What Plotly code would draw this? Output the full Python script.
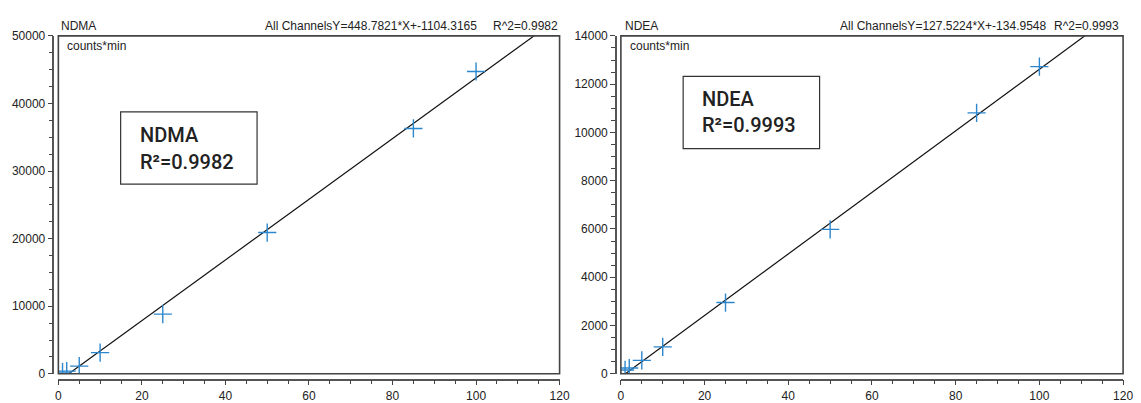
import plotly.graph_objects as go

W, H = 1141, 403

# Calibration data: concentration vs. peak area (counts*min)
conc_ndma = [1, 2, 5, 10, 25, 50, 85, 100]
area_ndma = [250, 400, 1140, 3130, 8830, 20900, 36300, 44730]
conc_ndea = [1, 2, 5, 10, 25, 50, 85, 100]
area_ndea = [160, 240, 558, 1117, 2952, 5983, 10810, 12725]

# Linear fit results
fit_ndma = {"slope": 448.7821, "intercept": -1104.3165, "r2": 0.9982}
fit_ndea = {"slope": 127.5224, "intercept": -134.9548, "r2": 0.9993}

x_ticks = [0, 20, 40, 60, 80, 100, 120]
y_ticks_ndma = [0, 10000, 20000, 30000, 40000, 50000]
y_ticks_ndea = [0, 2000, 4000, 6000, 8000, 10000, 12000, 14000]

FONT = "Liberation Sans, Arial, sans-serif"
BOX_FONT = "Roboto, Liberation Sans, Arial, sans-serif"
BLUE = "rgb(45,135,205)"


def px(x):
    return x / W


def py(y):
    return (H - y) / H


panels = [
    dict(name="NDMA", conc=conc_ndma, area=area_ndma, fit=fit_ndma,
         yticks=y_ticks_ndma, ymax=50000, yminor=2500,
         frame=(56, 563), axis_x=51,
         box=(119, 109, 257, 184), text_x=137, lines_y=(133, 161),
         head=(57, 263, 494)),
    dict(name="NDEA", conc=conc_ndea, area=area_ndea, fit=fit_ndea,
         yticks=y_ticks_ndea, ymax=14000, yminor=500,
         frame=(625, 1133), axis_x=620,
         box=(688, 72, 826, 147), text_x=705, lines_y=(96, 123),
         head=(627, 845, 1061)),
]

fig = go.Figure()
shapes, annotations = [], []
FRAME_TOP, FRAME_BOT, XAXIS_Y = 30, 381, 387

for i, p in enumerate(panels, start=1):
    xa = "x" if i == 1 else f"x{i}"
    ya = "y" if i == 1 else f"y{i}"
    fit = p["fit"]

    # fitted regression line
    xl = [0, 120]
    yl = [fit["slope"] * v + fit["intercept"] for v in xl]
    fig.add_trace(go.Scatter(x=xl, y=yl, mode="lines",
                             line=dict(color="#111", width=1.2),
                             xaxis=xa, yaxis=ya, showlegend=False,
                             hoverinfo="skip"))
    # calibration points
    fig.add_trace(go.Scatter(x=p["conc"], y=p["area"], mode="markers",
                             marker=dict(symbol="cross-thin", size=13,
                                         line=dict(color=BLUE, width=1.4)),
                             xaxis=xa, yaxis=ya, showlegend=False))

    axis_common = dict(showgrid=False, zeroline=False, showline=True,
                       linecolor="#555", linewidth=1.5, ticks="outside",
                       ticklen=5, tickwidth=1.2, tickcolor="#444",
                       tickfont=dict(family=FONT, size=12, color="#222"),
                       anchor="free", fixedrange=True)
    fig.update_layout(**{
        ("xaxis" if i == 1 else f"xaxis{i}"): dict(
            axis_common,
            domain=[px(p["frame"][0]), px(p["frame"][1])],
            range=[0, 120], tickvals=x_ticks,
            ticktext=[str(v) for v in x_ticks],
            minor=dict(dtick=5, ticks="outside", ticklen=4,
                       tickcolor="#444", tickwidth=1.2),
            position=py(XAXIS_Y), ticklabelstandoff=0),
        ("yaxis" if i == 1 else f"yaxis{i}"): dict(
            axis_common,
            domain=[py(FRAME_BOT), py(FRAME_TOP)],
            range=[0, p["ymax"]], tickvals=p["yticks"],
            ticktext=[str(v) for v in p["yticks"]],
            minor=dict(dtick=p["yminor"], ticks="outside", ticklen=4,
                       tickcolor="#444", tickwidth=1.2),
            position=px(p["axis_x"])),
    })

    # plot frame
    shapes.append(dict(type="rect", xref=f"{xa} domain", yref=f"{ya} domain",
                       x0=0, x1=1, y0=0, y1=1,
                       line=dict(color="#444", width=1.6)))
    # label box
    bx0, by0, bx1, by1 = p["box"]
    shapes.append(dict(type="rect", xref="paper", yref="paper",
                       x0=px(bx0), x1=px(bx1), y0=py(by1), y1=py(by0),
                       line=dict(color="#333", width=1.2)))
    box_font = dict(family=BOX_FONT, size=20, color="#222", weight=500)
    annotations.append(dict(text=p["name"], xref="paper", yref="paper",
                            x=px(p["text_x"]), y=py(p["lines_y"][0]),
                            xanchor="left", yanchor="middle", showarrow=False,
                            font=box_font))
    annotations.append(dict(text=f"R²={fit['r2']:.4f}", xref="paper", yref="paper",
                            x=px(p["text_x"]), y=py(p["lines_y"][1]),
                            xanchor="left", yanchor="middle", showarrow=False,
                            font=box_font))

    # header texts
    hx_name, hx_eq, hx_r2 = p["head"]
    small = dict(family=FONT, size=12, color="#222")
    eq = f"All ChannelsY={fit['slope']:.4f}*X+{fit['intercept']:.4f}"
    for txt, x in [(p["name"], hx_name), (eq, hx_eq),
                   (f"R^2={fit['r2']:.4f}", hx_r2)]:
        annotations.append(dict(text=txt, xref="paper", yref="paper",
                                x=px(x), y=py(20), xanchor="left",
                                yanchor="middle", showarrow=False, font=small))
    annotations.append(dict(text="counts*min", xref="paper", yref="paper",
                            x=px(p["frame"][0] + 7), y=py(41), xanchor="left",
                            yanchor="middle", showarrow=False, font=small))

fig.update_layout(width=W, height=H, margin=dict(l=0, r=0, t=0, b=0),
                  paper_bgcolor="white", plot_bgcolor="white",
                  shapes=shapes, annotations=annotations)

fig.write_html("out.html")
